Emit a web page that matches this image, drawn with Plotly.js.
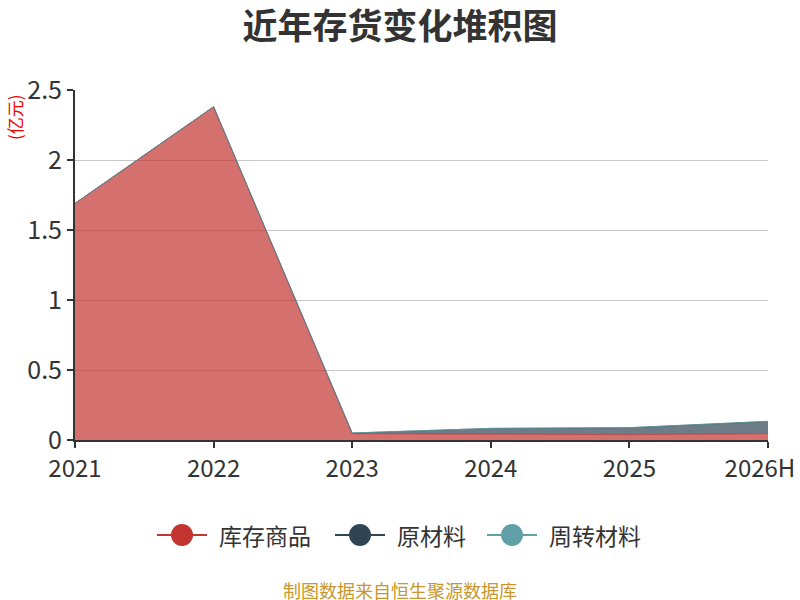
<!DOCTYPE html>
<html><head><meta charset="utf-8">
<script src="https://cdn.plot.ly/plotly-3.0.1.min.js"></script>
<style>html,body{margin:0;padding:0;background:#fff;}#chart{width:800px;height:600px;}</style>
</head><body><div id="chart"></div>
<script>
var categories = ['2021','2022','2023','2024','2025','2026H'];
var seriesNames = ['库存商品','原材料','周转材料'];
var finishedGoods = [1.69, 2.38, 0.045, 0.043, 0.038, 0.045];
var rawMaterials = [0, 0, 0.005, 0.040, 0.050, 0.088];
var turnoverMaterials = [0, 0, 0, 0, 0, 0];
var yTicks = [0, 0.5, 1, 1.5, 2, 2.5];
var yTickLabels = ['0','0.5','1','1.5','2','2.5'];

var colors = ['#c23531','#2f4554','#61a0a8'];
var fills = ['rgba(194,53,49,0.7)','rgba(47,69,84,0.7)','rgba(97,160,168,0.7)'];
var values = [finishedGoods, rawMaterials, turnoverMaterials];
var font = '"Noto Sans CJK SC", "Noto Sans", sans-serif';

// plot area in pixels (for converting legend positions to paper coords)
var L = 75, R = 768, T = 90, B = 440;
function px(x) { return (x - L) / (R - L); }
function py(y) { return (B - y) / (B - T); }

var traces = [];
for (var i = 0; i < 3; i++) {
  traces.push({
    type: 'scatter', x: categories, y: values[i], name: seriesNames[i],
    stackgroup: 'one', mode: 'lines', fillcolor: fills[i],
    line: {color: fills[i], width: 1}, showlegend: false, hoverinfo: 'skip'
  });
}

// x tick text: the last label is nudged inward like the reference
var xTickText = categories.map(function (c, k) {
  return k === categories.length - 1 ? c + '\u00a0\u00a0\u00a0' : c;
});

// custom legend (line + circle + text)
var legendLineStarts = [157, 335, 487];
var legendY = 535;
var shapes = [], annotations = [];
for (var m = 0; m < 3; m++) {
  var x0 = legendLineStarts[m];
  shapes.push({type: 'line', xref: 'paper', yref: 'paper', x0: px(x0), x1: px(x0 + 50), y0: py(legendY), y1: py(legendY),
               line: {color: colors[m], width: 2}});
  shapes.push({type: 'circle', xref: 'paper', yref: 'paper', xsizemode: 'pixel', ysizemode: 'pixel',
               xanchor: px(x0 + 25), yanchor: py(legendY), x0: -11, x1: 11, y0: -11, y1: 11,
               fillcolor: colors[m], line: {width: 0}});
  annotations.push({text: seriesNames[m], xref: 'paper', yref: 'paper', x: px(x0 + 60), y: py(legendY),
                    xanchor: 'left', yanchor: 'middle', showarrow: false,
                    font: {family: font, size: 23, color: '#333'}});
}
annotations.push({text: '(亿元)', xref: 'paper', yref: 'paper', x: px(14), y: py(117), xanchor: 'center', yanchor: 'middle',
                  textangle: -90, showarrow: false, font: {family: font, size: 17, color: '#e00'}});
annotations.push({text: '制图数据来自恒生聚源数据库', xref: 'paper', yref: 'paper', x: px(400), xanchor: 'center',
                  y: py(590), yanchor: 'middle', showarrow: false, font: {family: font, size: 18, color: '#c8962a'}});

var layout = {
  width: 800, height: 600,
  margin: {l: L, r: 800 - R, t: T, b: 600 - B},
  paper_bgcolor: '#fff', plot_bgcolor: '#fff',
  showlegend: false,
  title: {text: '<b>近年存货变化堆积图</b>', x: 0.5, xanchor: 'center', y: 0.956, yanchor: 'middle',
          font: {family: font, size: 35, color: '#333'}},
  xaxis: {type: 'category', range: [0, 5], tickvals: categories, ticktext: xTickText,
          showgrid: false, showline: true, linecolor: '#333', linewidth: 2,
          ticks: 'outside', ticklen: 6, tickwidth: 2, tickcolor: '#333',
          tickfont: {family: font, size: 24, color: '#333'}, fixedrange: true},
  yaxis: {range: [0, 2.5], tickvals: yTicks, ticktext: yTickLabels, showgrid: true, gridcolor: '#c8c8c8', gridwidth: 1,
          showline: true, linecolor: '#333', linewidth: 2, zeroline: false, layer: 'below traces',
          ticks: 'outside', ticklen: 6, tickwidth: 2, tickcolor: '#333',
          tickfont: {family: font, size: 25, color: '#333'}, fixedrange: true},
  shapes: shapes,
  annotations: annotations,
  hovermode: false
};
Plotly.newPlot('chart', traces, layout, {displayModeBar: false, staticPlot: true});
</script></body></html>
